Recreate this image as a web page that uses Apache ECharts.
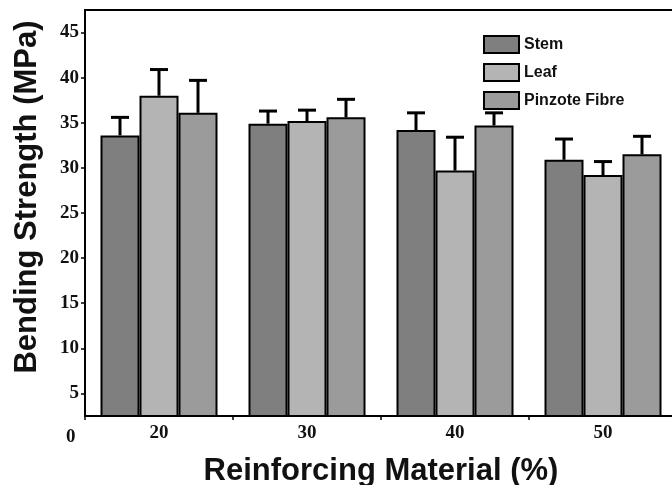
<!DOCTYPE html>
<html>
<head>
<meta charset="utf-8">
<script src="https://cdn.jsdelivr.net/npm/echarts@6/dist/echarts.min.js"></script>
<style>html,body{margin:0;padding:0;background:#fff}#c{width:672px;height:485px}</style>
</head>
<body>
<div id="c"></div>
<script>
const categories = ['20', '30', '40', '50'];
const seriesNames = ['Stem', 'Leaf', 'Pinzote Fibre'];
const stemMean = [33.6, 34.9, 34.2, 30.9];
const stemUpper = [35.6, 36.3, 36.1, 33.2];
const leafMean = [38.0, 35.2, 29.7, 29.2];
const leafUpper = [40.9, 36.4, 33.4, 30.7];
const pinzoteMean = [36.1, 35.6, 34.7, 31.5];
const pinzoteUpper = [39.7, 37.6, 36.1, 33.5];
const yTicks = [5, 10, 15, 20, 25, 30, 35, 40, 45];

const colors = ['#7f7f7f', '#b4b4b4', '#9b9b9b'];
const BAR_W = 39;
const means = [stemMean, leafMean, pinzoteMean];
const uppers = [stemUpper, leafUpper, pinzoteUpper];

const chart = echarts.init(document.getElementById('c'));

const barSeries = seriesNames.map((name, k) => ({
  name: name,
  type: 'bar',
  data: means[k],
  barWidth: BAR_W,
  barGap: '0%',
  itemStyle: { color: colors[k], borderColor: '#000', borderWidth: 2 },
  z: 2
}));

const errSeries = seriesNames.map((name, k) => ({
  type: 'custom',
  name: name + ' error',
  data: categories.map((c, i) => [i, means[k][i], uppers[k][i]]),
  z: 3,
  silent: true,
  renderItem: function (params, api) {
    const off = (k - 1) * BAR_W;
    const b = api.coord([api.value(0), api.value(1)]);
    const t = api.coord([api.value(0), api.value(2)]);
    const x = b[0] + off;
    const st = { stroke: '#000', lineWidth: 3 };
    return {
      type: 'group',
      children: [
        { type: 'line', shape: { x1: x, y1: b[1], x2: x, y2: t[1] }, style: st },
        { type: 'line', shape: { x1: x - 9, y1: t[1], x2: x + 9, y2: t[1] }, style: st }
      ]
    };
  }
}));

chart.setOption({
  backgroundColor: '#fff',
  animation: false,
  grid: { left: 85, top: 10, width: 592, height: 406, show: true, borderColor: '#000', borderWidth: 2, containLabel: false, outerBoundsMode: 'none' },
  legend: {
    data: seriesNames,
    orient: 'vertical',
    left: 478, top: 30,
    icon: 'rect',
    itemWidth: 35, itemHeight: 17, itemGap: 9,
    itemStyle: { borderColor: '#000', borderWidth: 2 },
    textStyle: { fontFamily: 'Liberation Sans', fontWeight: 'bold', fontSize: 16, color: '#111', padding: [0, 0, 0, 0] }
  },
  xAxis: {
    type: 'category',
    data: categories,
    name: 'Reinforcing Material (%)',
    nameLocation: 'middle',
    nameGap: 40,
    nameTextStyle: { fontFamily: 'Liberation Sans', fontWeight: 'bold', fontSize: 31, color: '#111' },
    axisLine: { lineStyle: { color: '#000', width: 2 } },
    axisTick: { show: true, length: 4, lineStyle: { color: '#000', width: 1.5 } },
    axisLabel: { fontFamily: 'Liberation Serif', fontWeight: 'bold', fontSize: 19, color: '#111', margin: 8 }
  },
  yAxis: {
    type: 'value',
    min: 2.5, max: 47.5,
    name: 'Bending Strength (MPa)',
    nameLocation: 'middle',
    nameGap: 42,
    nameTextStyle: { fontFamily: 'Liberation Sans', fontWeight: 'bold', fontSize: 31, color: '#111', padding: [0, 0, 0, 32] },
    splitLine: { show: false },
    axisLine: { show: true, lineStyle: { color: '#000', width: 2 } },
    axisTick: { show: true, length: 4, customValues: yTicks, lineStyle: { color: '#000', width: 1.5 } },
    axisLabel: { customValues: yTicks, fontFamily: 'Liberation Serif', fontWeight: 'bold', fontSize: 19, color: '#111', margin: 6 }
  },
  graphic: [
    { type: 'text', left: 66, top: 428, style: { text: '0', font: 'bold 19px "Liberation Serif"', fill: '#111' } }
  ],
  series: barSeries.concat(errSeries)
});
</script>
</body>
</html>
